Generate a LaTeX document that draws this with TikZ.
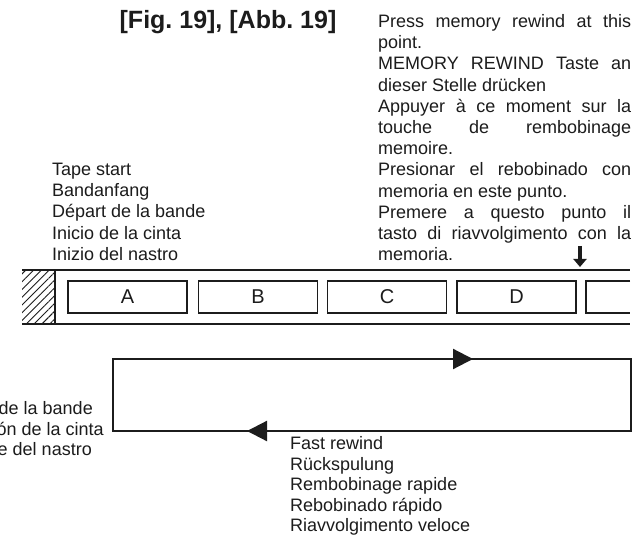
\documentclass[tikz,border=0pt]{standalone}
\usepackage{fontspec}
\setmainfont{Liberation Sans}
\usetikzlibrary{arrows.meta,patterns.meta,decorations.markings}
\definecolor{ink}{HTML}{1C1C1C}

\begin{document}
\begin{tikzpicture}[x=1pt,y=-1pt,>={Triangle[length=20pt,width=20pt]},
  txt/.style={inner sep=0pt,font=\fontsize{18}{21}\selectfont,text=ink},
  seg/.style={draw=ink,line width=1.4pt,minimum width=119pt,minimum height=32pt,
    inner sep=0pt,font=\fontsize{20}{22}\selectfont,text=ink},
  tape/.style={ink,line width=1.4pt},
  loopline/.style={ink,line width=2.2pt}]
\clip (0,0) rectangle (634,537);
\fill[white] (0,0) rectangle (634,537);
\node[txt,font=\bfseries\fontsize{25}{28}\selectfont,anchor=base] (title) at (228,29) {[Fig.~19], [Abb.~19]};
\foreach \t/\j [count=\i] in {Press memory rewind at this/s,point./l,
    MEMORY REWIND Taste an/s,dieser Stelle drücken/l,
    Appuyer à ce moment sur la/s,touche de rembobinage/s,memoire./l,
    Presionar el rebobinado con/s,memoria en este punto./l,
    Premere a questo punto il/s,tasto di riavvolgimento con la/s,memoria./l}
  \node[txt,anchor=base west] (r\i) at (378,{27.5+21.2*(\i-1)}) {\makebox[253pt][\j]{\t}};
\foreach \t [count=\i] in {Tape start,Bandanfang,Départ de la bande,Inicio de la cinta,Inizio del nastro}
  \node[txt,anchor=base west] (ts\i) at (52,{175.5+21.2*(\i-1)}) {\t};
\foreach \t/\x [count=\i] in {Fin de la bande/93,Terminación de la cinta/104,Fine del nastro/92}
  \node[txt,anchor=base east] (te\i) at (\x,{414.5+20.5*(\i-1)}) {\t};
\foreach \t [count=\i] in {Fast rewind,Rückspulung,Rembobinage rapide,Rebobinado rápido,Riavvolgimento veloce}
  \node[txt,anchor=base west] (fr\i) at (290,{449.5+20.6*(\i-1)}) {\t};
% tape
\coordinate (tl) at (22,270); \coordinate (tr) at (630,270);
\coordinate (bl) at (22,324); \coordinate (br) at (630,324);
\fill[pattern={Lines[angle=45,distance=5.5pt,line width=0.9pt]},pattern color=ink] (22,270) rectangle (55,324);
\draw[tape] (tl) -- (tr);
\draw[tape] (bl) -- (br);
\draw[tape] (55,270) -- (55,324);
\foreach \n/\x in {A/127.5,B/258,C/387,D/516.5}
  \node[seg] (\n) at (\x,297) {\n};
\draw[tape] (630,281) -- (586,281) -- (586,313) -- (630,313);
\coordinate (ptop) at (580,246); \coordinate (pbot) at (580,267);
\draw[ink,line width=3.5pt,-{Triangle[length=8pt,width=13pt]}] (ptop) -- (pbot);
% loop
\coordinate (lnw) at (113,359); \coordinate (lse) at (631,431);
\draw[loopline,postaction={decorate},decoration={markings,
    mark=at position 360pt with {\arrow{>}},mark=at position 974pt with {\arrow{>}}}]
  (lnw) -- (lse |- lnw) -- (lse) -- (lnw |- lse) -- cycle;
\end{tikzpicture}
\end{document}
